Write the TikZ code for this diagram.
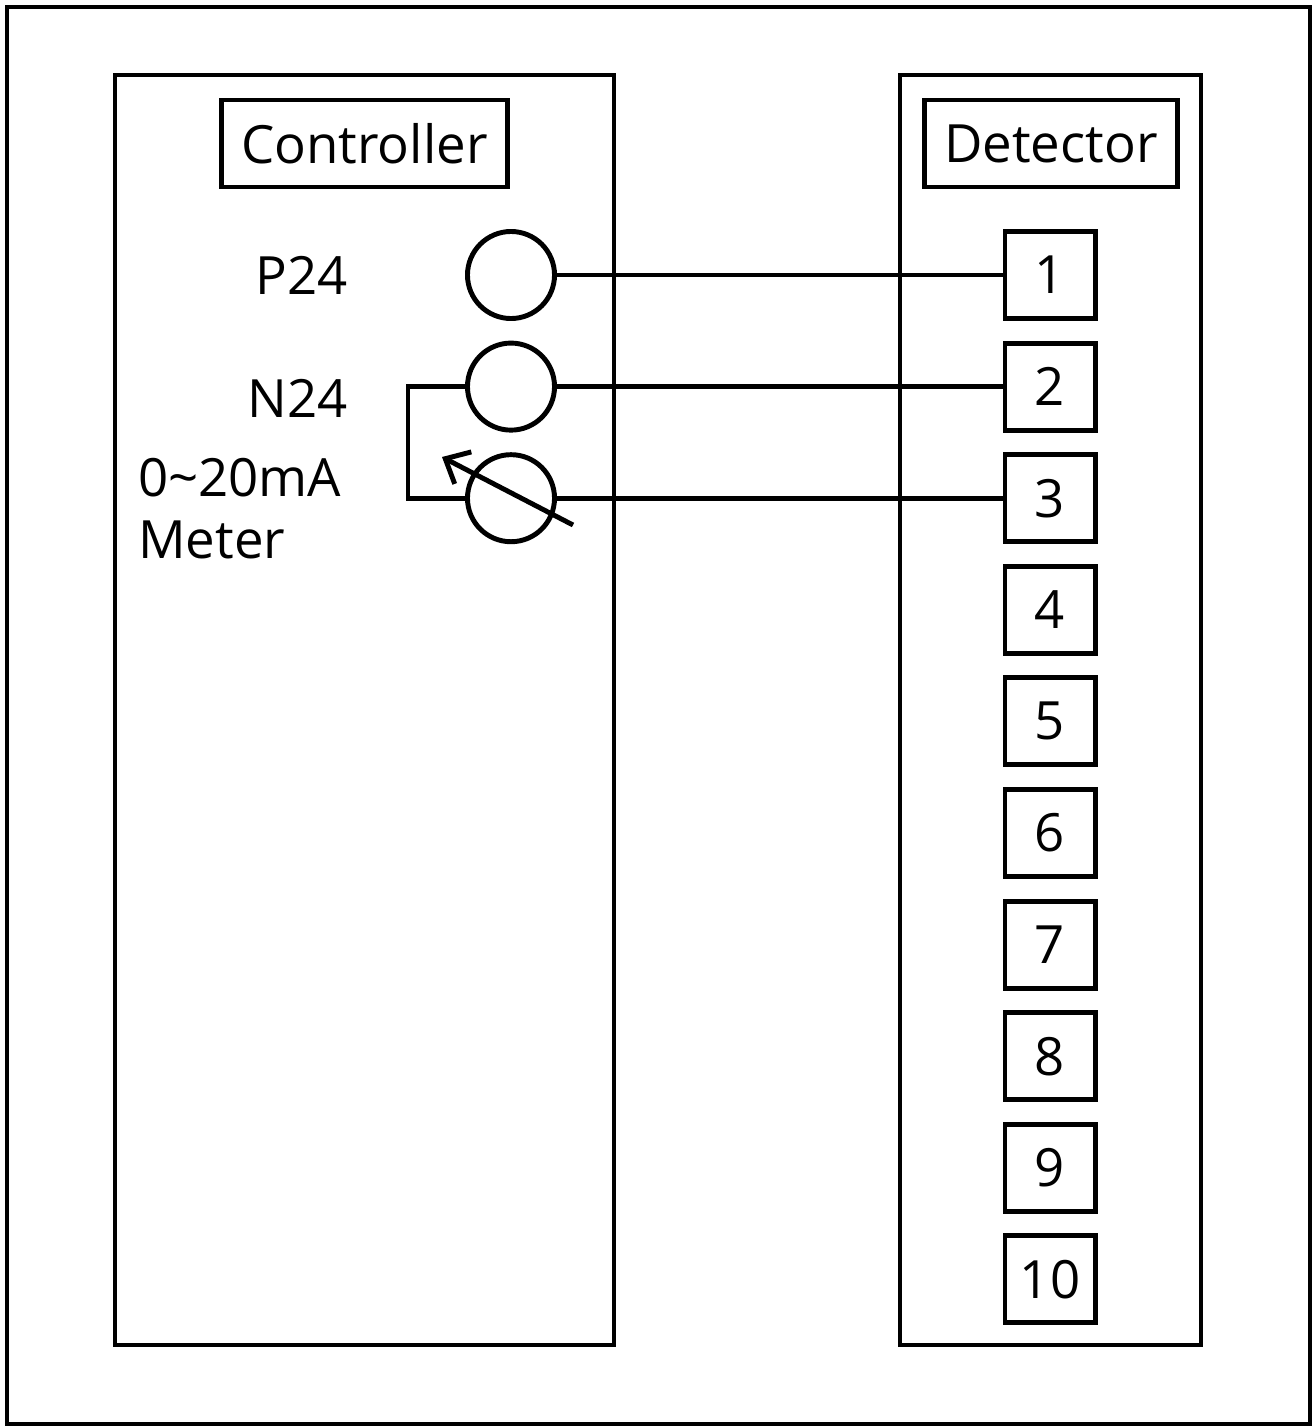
\documentclass[tikz,border=0pt]{standalone}
\usepackage{fontspec}
\setmainfont{Open Sans}
\usetikzlibrary{arrows, arrows.meta}

\begin{document}
\begin{tikzpicture}[x=0.01cm, y=-0.01cm, line width=1.4pt, font=\fontsize{15}{18}\selectfont]
	\useasboundingbox (0,0) rectangle (1314,1427);
	\draw (7,7) rectangle (1310,1424);
	\begin{scope}
		\draw (115,75) rectangle (614,1345);
		\node[draw, minimum width=2.85cm, minimum height=0.87cm] (CL) at (364.5,143.5) {Controller};
		\node[circle, draw, minimum size=0.87cm, inner sep=0pt] (P) at (511,275) {};
		\node[circle, draw, minimum size=0.87cm, inner sep=0pt] (N) at (511,386.6) {};
		\node[circle, draw, minimum size=0.87cm, inner sep=0pt] (M) at (511,498.2) {};
		\node[anchor=east] (LP) at (362,275) {P24};
		\node[anchor=east] (LN) at (362,398) {N24};
		\node[anchor=west] (LM1) at (124,478) {0\textasciitilde20mA};
		\node[anchor=west] (LM2) at (124,540) {Meter};
		\coordinate (A1) at (573,525);
		\coordinate (A2) at (442,457);
		\draw (N.west) -- ++(-57,0) |- (M.west);
		\draw[-{Straight Barb[length=2mm, width=3.6mm]}] (A1) -- (A2);
	\end{scope}
	\begin{scope}
		\draw (900,75) rectangle (1201,1345);
		\node[draw, minimum width=2.52cm, minimum height=0.87cm] (DL) at (1051,143.5) {Detector};
		\foreach \i in {1,...,10}
			\node[draw, minimum width=0.9cm, minimum height=0.87cm, inner sep=0pt] (T\i) at (1050,{275+111.6*(\i-1)}) {\i};
	\end{scope}
	\draw (P) -- (T1);
	\draw (N) -- (T2);
	\draw (M) -- (T3);
\end{tikzpicture}
\end{document}
